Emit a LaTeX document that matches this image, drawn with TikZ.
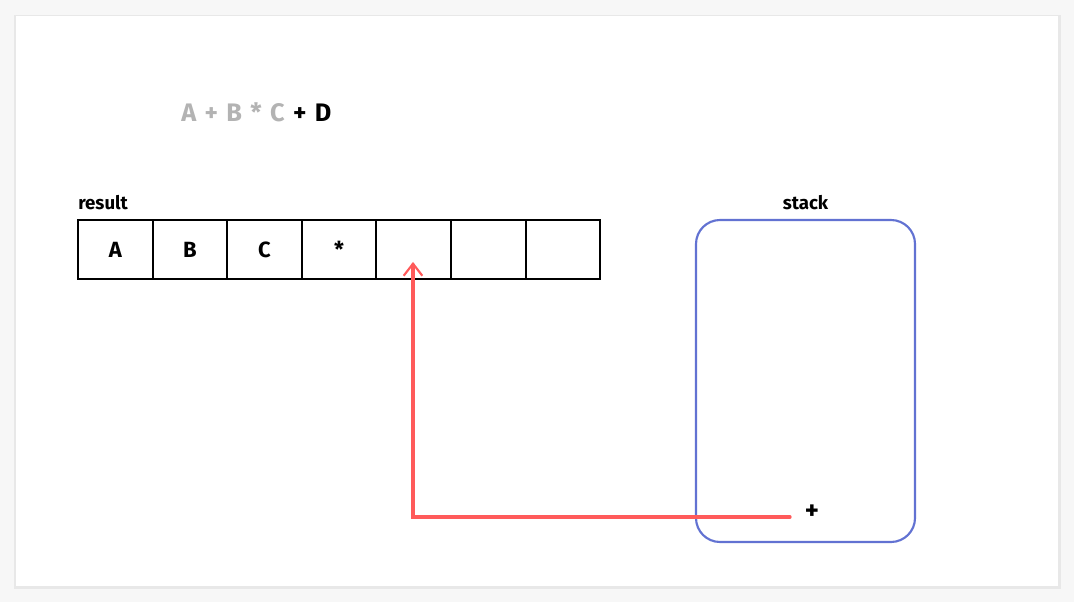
\documentclass[tikz,border=0pt]{standalone}
\usepackage{fontspec}
\setmainfont{Fira Sans}
\usetikzlibrary{arrows.meta}
\definecolor{bggray}{HTML}{F7F7F7}
\definecolor{shadowgray}{HTML}{E8E8E8}
\definecolor{lightgray}{HTML}{B3B3B3}
\definecolor{stackblue}{HTML}{6272D2}
\definecolor{arrowred}{HTML}{FF5A5A}
\tikzset{
  cellbox/.style={draw=black, line width=1.6pt, minimum width=74.6*0.75pt, minimum height=59*0.75pt, inner sep=0pt, font=\fontsize{16.5}{18}\selectfont\bfseries},
  lbl/.style={inner sep=0pt, font=\fontsize{14}{16}\selectfont\bfseries},
  stackbox/.style={draw=stackblue, line width=1.6pt, rounded corners=18pt},
  redline/.style={draw=arrowred, line width=2.4pt, line cap=round},
}
\begin{document}
\begin{tikzpicture}[x=0.75pt, y=-0.75pt]
\useasboundingbox (0,0) rectangle (1074,602);
\fill[bggray] (0,0) rectangle (1074,602);
\fill[shadowgray] (14,15) rectangle (1061,589);
\fill[white] (16,16) rectangle (1058,586);
% title
\node[anchor=west, inner sep=0pt, font=\fontsize{19}{20}\selectfont\bfseries] (title) at (181,112) {\spaceskip=0.33em\textcolor{lightgray}{A + B * C} + D};
% result label
\node[lbl, anchor=south west] (reslbl) at (78,210) {result};
% cells
\foreach \i/\t in {1/A,2/B,3/C,4/*,5/{},6/{},7/{}} {
  \node[cellbox] (c\i) at ({78+74.6*(\i-0.5)},249.5) {\t};
}
% stack
\node[stackbox, minimum width=219*0.75pt, minimum height=322*0.75pt] (stack) at (805.5,381) {};
\node[lbl, anchor=south] (stacklbl) at (805.5,210) {stack};
\node[inner sep=0pt, font=\fontsize{20}{22}\selectfont\bfseries] (plus) at (812,512) {+};
% arrow
\coordinate (start) at (790,517);
\coordinate (tip) at (413,262);
\draw[redline, -{Straight Barb[length=9pt,width=14pt,line width=1.6pt]}] (start) -- (413,517) -- (tip);
\end{tikzpicture}
\end{document}
